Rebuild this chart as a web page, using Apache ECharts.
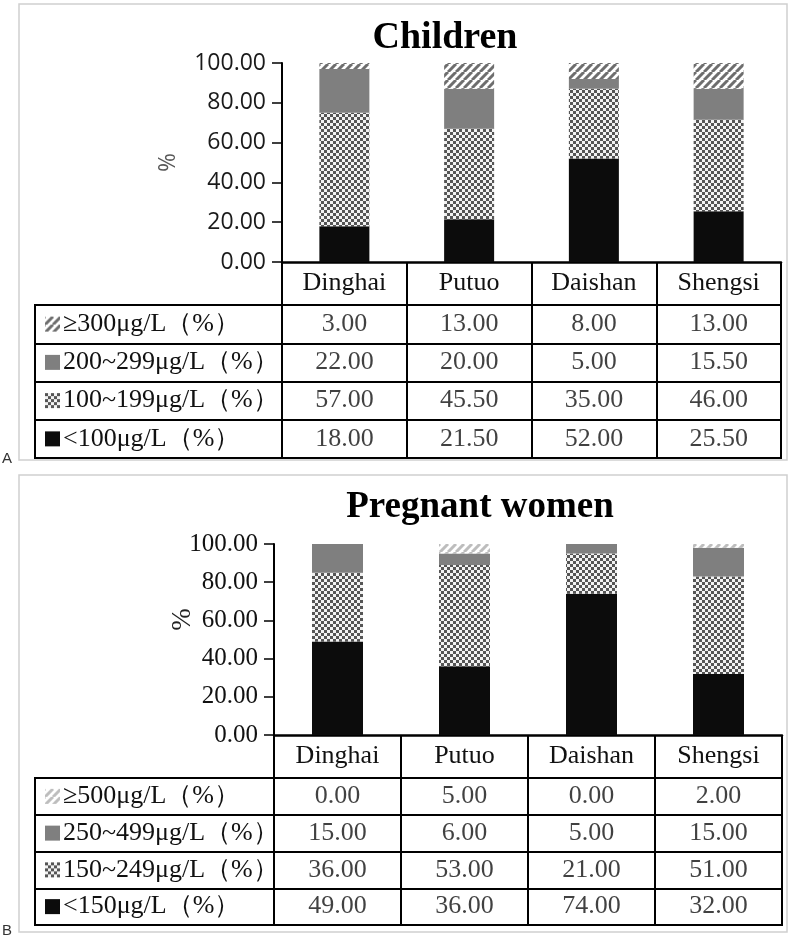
<!DOCTYPE html>
<html>
<head>
<meta charset="utf-8">
<script src="https://cdn.jsdelivr.net/npm/echarts@6/dist/echarts.min.js"></script>
<style>
html,body{margin:0;padding:0;background:#fff;}
#chart{width:800px;height:941px;}
</style>
</head>
<body>
<div id="chart"></div>
<script>
// ---------- DATA ----------
const regions = ['Dinghai', 'Putuo', 'Daishan', 'Shengsi'];
const yTicks = [0, 20, 40, 60, 80, 100];

// Panel A: Children
const childTitle = 'Children';
const childCats = ['≥300μg/L（%）', '200~299μg/L（%）', '100~199μg/L（%）', '<100μg/L（%）'];
const childGe300 = [3.00, 13.00, 8.00, 13.00];
const child200 = [22.00, 20.00, 5.00, 15.50];
const child100 = [57.00, 45.50, 35.00, 46.00];
const childLt100 = [18.00, 21.50, 52.00, 25.50];

// Panel B: Pregnant women
const pregTitle = 'Pregnant women';
const pregCats = ['≥500μg/L（%）', '250~499μg/L（%）', '150~249μg/L（%）', '<150μg/L（%）'];
const pregGe500 = [0.00, 5.00, 0.00, 2.00];
const preg250 = [15.00, 6.00, 5.00, 15.00];
const preg150 = [36.00, 53.00, 21.00, 51.00];
const pregLt150 = [49.00, 36.00, 74.00, 32.00];

// ---------- PATTERNS ----------
function hatchTile(stripe) {
  const c = document.createElement('canvas'); c.width = 8; c.height = 8;
  const g = c.getContext('2d');
  g.fillStyle = '#fff'; g.fillRect(0, 0, 8, 8);
  g.strokeStyle = stripe; g.lineWidth = 3; g.beginPath();
  [-8, 0, 8].forEach(o => { g.moveTo(o, 8); g.lineTo(o + 8, 0); });
  g.stroke();
  return c;
}
function checkerTile() {
  const c = document.createElement('canvas'); c.width = 6; c.height = 6;
  const g = c.getContext('2d');
  g.fillStyle = '#f2f2f2'; g.fillRect(0, 0, 6, 6);
  g.fillStyle = '#555555'; g.fillRect(0, 0, 3, 3); g.fillRect(3, 3, 3, 3);
  return c;
}
function solidTile(col) {
  const c = document.createElement('canvas'); c.width = 4; c.height = 4;
  const g = c.getContext('2d'); g.fillStyle = col; g.fillRect(0, 0, 4, 4);
  return c;
}
function swatch(tile) {
  const c = document.createElement('canvas'); c.width = 15; c.height = 15;
  const g = c.getContext('2d');
  g.fillStyle = g.createPattern(tile, 'repeat'); g.fillRect(0, 0, 15, 15);
  return c;
}
const hatchA = hatchTile('#6e6e6e');
const hatchB = hatchTile('#bdbdbd');
const checker = checkerTile();
const GRAY = '#7f7f7f', BLACK = '#0c0c0c';

const pat = t => ({ image: t, repeat: 'repeat' });

const serif = '"Liberation Serif", "Times New Roman", serif';
const sans = '"Open Sans", "Liberation Sans", sans-serif';
const TBL_FS = 26;

function legendRich(hatch) {
  const tiles = [hatch, solidTile(GRAY), checker, solidTile(BLACK)];
  const rich = { t: { fontFamily: serif, fontSize: TBL_FS, color: '#111', padding: [0, 0, 0, 3] } };
  tiles.forEach((t, i) => {
    rich['s' + i] = { width: 15, height: 15, backgroundColor: { image: swatch(t) } };
  });
  return rich;
}

// ---------- BUILD ----------
function panel(p) {
  const gi = p.gridBase, grids = [], xA = [], yA = [], series = [];
  grids.push({ left: p.axisX, right: 800 - p.rightX, top: p.yTop, height: p.yZero - p.yTop });
  grids.push({ left: p.axisX, right: 800 - p.rightX, top: p.tblTop, height: p.tblBot - p.tblTop,
               show: true, borderColor: '#000', borderWidth: 2 });
  grids.push({ left: 35, width: p.axisX - 35, top: p.tblTop, height: p.tblBot - p.tblTop,
               show: true, borderColor: '#000', borderWidth: 2 });

  xA.push({ type: 'category', gridIndex: gi, data: regions,
            axisLine: { lineStyle: { color: '#000', width: 2.5 } },
            axisTick: { show: false }, axisLabel: { show: false } });
  xA.push({ type: 'category', gridIndex: gi + 1, data: regions, position: 'top',
            axisLine: { lineStyle: { color: '#000', width: 2 } },
            axisTick: { show: true, length: p.tblTop - p.yZero, interval: 0, lineStyle: { color: '#000', width: 2 } },
            axisLabel: { fontFamily: serif, fontSize: TBL_FS, color: '#111', margin: 9 },
            splitLine: { show: true, lineStyle: { color: '#000', width: 2 } } });
  xA.push({ type: 'value', gridIndex: gi + 2, show: false, min: 0, max: 1 });

  yA.push({ type: 'value', gridIndex: gi, min: 0, max: 100, interval: 20,
            name: '%', nameLocation: 'middle', nameGap: p.nameGap, nameRotate: 90,
            nameMoveOverlap: false,
            nameTextStyle: p.nameStyle,
            axisLine: { show: true, lineStyle: { color: '#000', width: 2 } },
            axisTick: { show: true, length: 10, lineStyle: { color: '#000', width: 1.5 } },
            splitLine: { show: false },
            axisLabel: { formatter: v => v.toFixed(2), margin: 16, ...p.tickStyle } });
  yA.push({ type: 'category', gridIndex: gi + 1, data: p.cats, inverse: true,
            axisLine: { show: false }, axisTick: { show: false }, axisLabel: { show: false },
            splitLine: { show: true, lineStyle: { color: '#000', width: 2 } } });
  yA.push({ type: 'category', gridIndex: gi + 2, data: p.cats, inverse: true,
            axisLine: { show: false }, axisTick: { show: false },
            axisLabel: { inside: true, margin: 10, formatter: (v, i) => '{s' + i + '|}{t|' + v + '}', rich: legendRich(p.hatch) },
            splitLine: { show: true, lineStyle: { color: '#000', width: 2 } } });

  const fills = [pat(p.hatch), GRAY, pat(checker), BLACK];
  // stacked bars bottom-up
  [3, 2, 1, 0].forEach(r => {
    series.push({ type: 'bar', name: p.cats[r], stack: p.stack, xAxisIndex: gi, yAxisIndex: gi,
                  barWidth: p.barW, data: p.vals[r], itemStyle: { color: fills[r] }, silent: true });
  });
  // table values
  p.vals.forEach((arr, r) => {
    series.push({ type: 'scatter', xAxisIndex: gi + 1, yAxisIndex: gi + 1, symbolSize: 1,
                  itemStyle: { color: 'rgba(0,0,0,0)' }, silent: true,
                  data: regions.map((reg, i) => [reg, p.cats[r], arr[i]]),
                  label: { show: true, position: 'inside', formatter: q => q.value[2].toFixed(2),
                           fontFamily: serif, fontSize: TBL_FS, color: '#111' } });
  });
  return { grids, xA, yA, series };
}

const A = panel({ gridBase: 0, axisX: 282, rightX: 781, yTop: 63, yZero: 262, tblTop: 305, tblBot: 458,
  cats: childCats, vals: [childGe300, child200, child100, childLt100], hatch: hatchA, stack: 'A', barW: 50,
  nameGap: 102, nameStyle: { fontFamily: sans, fontSize: 23, color: '#595959' },
  tickStyle: { fontFamily: sans, fontSize: 23, color: '#1a1a1a' } });
const B = panel({ gridBase: 3, axisX: 274, rightX: 782, yTop: 544, yZero: 735, tblTop: 778, tblBot: 925,
  cats: pregCats, vals: [pregGe500, preg250, preg150, pregLt150], hatch: hatchB, stack: 'B', barW: 51,
  nameGap: 78, nameStyle: { fontFamily: serif, fontSize: 27, color: '#222', padding: [0, 0, 0, 40] },
  tickStyle: { fontFamily: serif, fontSize: 25, color: '#111' } });

const chart = echarts.init(document.getElementById('chart'), null, { renderer: 'canvas' });
chart.setOption({
  animation: false,
  backgroundColor: '#fff',
  title: [
    { text: childTitle, left: 445, top: 19, textAlign: 'center', padding: 0,
      textStyle: { fontFamily: serif, fontWeight: 'bold', fontSize: 38, color: '#000' } },
    { text: pregTitle, left: 480, top: 489, textAlign: 'center', padding: 0,
      textStyle: { fontFamily: serif, fontWeight: 'bold', fontSize: 37, color: '#000' } }
  ],
  graphic: [
    { type: 'rect', z: -10, shape: { x: 19, y: 4, width: 768, height: 456 }, style: { fill: 'none', stroke: '#d0d0d0', lineWidth: 1.5 } },
    { type: 'rect', z: -10, shape: { x: 19, y: 475, width: 768, height: 457 }, style: { fill: 'none', stroke: '#d0d0d0', lineWidth: 1.5 } },
    { type: 'text', left: 2, top: 451, style: { text: 'A', font: '15px "Liberation Sans"', fill: '#333' } },
    { type: 'text', left: 2, top: 923, style: { text: 'B', font: '15px "Liberation Sans"', fill: '#333' } }
  ],
  grid: [...A.grids, ...B.grids],
  xAxis: [...A.xA, ...B.xA],
  yAxis: [...A.yA, ...B.yA],
  series: [...A.series, ...B.series]
});
</script>
</body>
</html>
